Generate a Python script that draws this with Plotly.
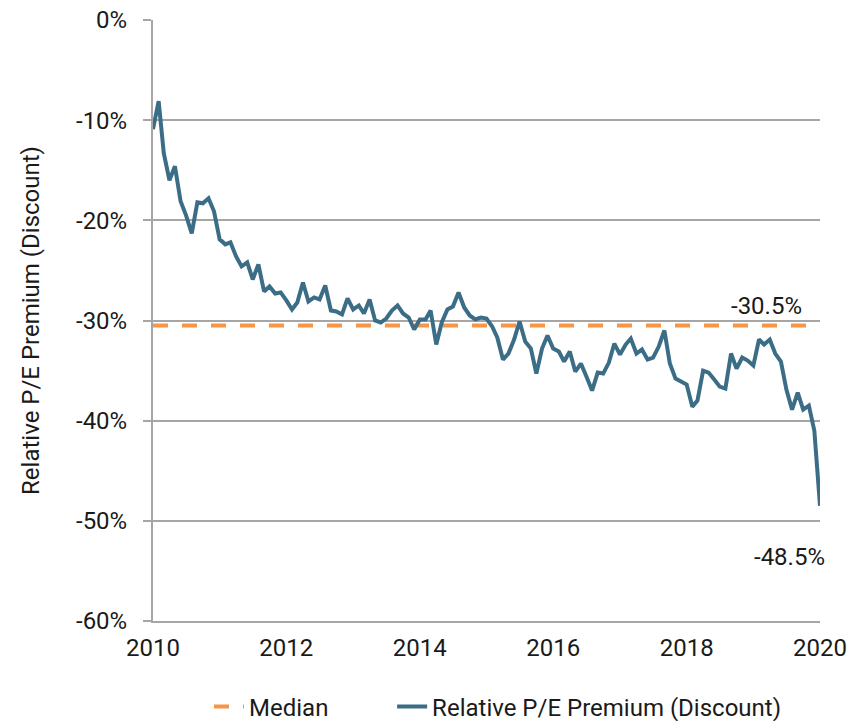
import pandas as pd
import plotly.graph_objects as go

# Monthly relative P/E premium (discount), Jan 2010 .. Jan 2020, in percent
premium = [
    -10.9, -8.1, -13.3, -16.0, -14.6, -18.1, -19.5, -21.3, -18.2, -18.3, -17.8, -19.1,   # 2010
    -21.9, -22.4, -22.2, -23.6, -24.6, -24.2, -25.9, -24.4, -27.1, -26.6, -27.3, -27.2,   # 2011
    -28.0, -28.9, -28.2, -26.2, -28.1, -27.7, -27.9, -26.5, -29.0, -29.1, -29.4, -27.8,   # 2012
    -28.9, -28.5, -29.3, -27.9, -30.0, -30.2, -29.8, -29.0, -28.5, -29.3, -29.7, -30.9,   # 2013
    -29.9, -29.9, -29.0, -32.4, -30.2, -28.9, -28.6, -27.2, -28.7, -29.5, -29.9, -29.7,   # 2014
    -29.8, -30.6, -31.7, -33.9, -33.3, -31.9, -30.1, -32.1, -32.8, -35.3, -32.8, -31.5,   # 2015
    -32.8, -33.1, -34.1, -33.1, -35.1, -34.3, -35.6, -37.0, -35.2, -35.3, -34.2, -32.3,   # 2016
    -33.4, -32.4, -31.8, -33.3, -32.9, -33.9, -33.7, -32.6, -31.0, -34.3, -35.8, -36.1,   # 2017
    -36.4, -38.6, -38.0, -35.0, -35.2, -35.9, -36.6, -36.8, -33.3, -34.8, -33.7, -34.0,   # 2018
    -34.5, -31.9, -32.4, -31.9, -33.3, -34.1, -36.9, -38.9, -37.2, -38.9, -38.5, -41.0,   # 2019
    -48.5,                                                                                  # 2020
]
months = pd.date_range("2010-01-01", periods=len(premium), freq="MS")
median_value = -30.5
median_series = [median_value] * len(premium)

y_ticks = [0, -10, -20, -30, -40, -50, -60]
y_tick_text = ["0%", "-10%", "-20%", "-30%", "-40%", "-50%", "-60%"]
x_ticks = ["2010-01-01", "2012-01-01", "2014-01-01", "2016-01-01", "2018-01-01", "2020-01-01"]
x_tick_text = ["2010", "2012", "2014", "2016", "2018", "2020"]

BLUE = "#3C6D87"
ORANGE = "#F79646"
GRID = "#A6A6A6"
TXT = "#1A1A1A"
FONT = "Roboto"
FS = 24

fig = go.Figure()
fig.add_trace(go.Scatter(
    x=months, y=median_series, mode="lines", name="Median",
    line=dict(color=ORANGE, width=4, dash="15px,14px"),
    legend="legend",
))
fig.add_trace(go.Scatter(
    x=months, y=premium, mode="lines", name="Relative P/E Premium (Discount)",
    line=dict(color=BLUE, width=4),
    legend="legend2",
))

fig.add_annotation(x=months[-1], y=median_value, text="-30.5%", showarrow=False,
                   xanchor="right", yanchor="bottom", xshift=-16, yshift=4,
                   font=dict(family=FONT, size=FS, color=TXT))
fig.add_annotation(x=months[-1], y=premium[-1], text="-48.5%", showarrow=False,
                   xanchor="right", yanchor="top", xshift=7, yshift=-35,
                   font=dict(family=FONT, size=FS, color=TXT))

legend_common = dict(orientation="h", xanchor="left", y=-0.1431, yanchor="middle",
                     font=dict(family=FONT, size=FS, color=TXT),
                     bgcolor="rgba(0,0,0,0)")

fig.update_layout(
    width=860, height=721,
    margin=dict(l=153, r=40, t=20, b=100, autoexpand=False),
    paper_bgcolor="white", plot_bgcolor="white",
    font=dict(family=FONT, size=FS, color=TXT),
    showlegend=True,
    legend=dict(x=0.084, **legend_common),
    legend2=dict(x=0.3585, **legend_common),
    xaxis=dict(
        type="date", range=["2010-01-01", "2020-01-01"],
        tickvals=x_ticks, ticktext=x_tick_text,
        showgrid=False, showline=True, linecolor=GRID, linewidth=2,
        ticks="", ticklabelstandoff=4,
        tickfont=dict(family=FONT, size=FS, color=TXT),
    ),
    yaxis=dict(
        range=[-60, 0], tickvals=y_ticks, ticktext=y_tick_text,
        showgrid=True, gridcolor=GRID, gridwidth=2,
        zeroline=True, zerolinecolor="rgba(0,0,0,0)",
        showline=True, linecolor=GRID, linewidth=2,
        ticks="outside", ticklen=8, tickcolor=GRID, tickwidth=2,
        ticklabelstandoff=11, ticklabeloverflow="allow",
        tickfont=dict(family=FONT, size=FS, color=TXT),
        title=dict(text="Relative P/E Premium (Discount)", standoff=30,
                   font=dict(family=FONT, size=FS, color=TXT)),
    ),
)

fig.write_html("out.html", config={"displayModeBar": False},
               post_script="document.body.style.margin='0';")
